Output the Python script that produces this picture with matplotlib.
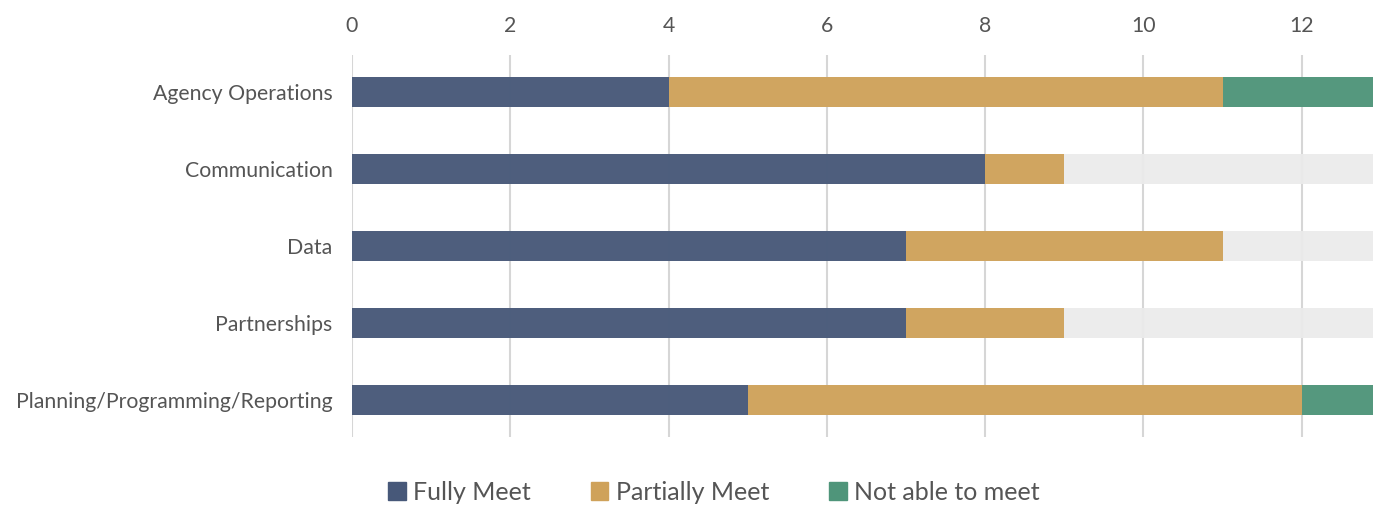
import matplotlib.pyplot as plt
from matplotlib.patches import Patch
import numpy as np

plt.rcParams['font.family'] = ['Lato', 'DejaVu Sans']

categories = ['Agency Operations', 'Communication', 'Data', 'Partnerships',
              'Planning/Programming/Reporting']
fully_meet = [4, 8, 7, 7, 5]
partially_meet = [7, 1, 4, 2, 7]
not_able = [2, 0, 0, 0, 1]
total = 13

colors = {'Fully Meet': '#475879', 'Partially Meet': '#cfa25a',
          'Not able to meet': '#4f957a'}
text_color = '#555555'

fig = plt.figure(figsize=(13.73, 5.08), dpi=100)
ax = fig.add_axes([352 / 1373, 1 - 437 / 508, 1 - 352 / 1373, (437 - 55) / 508])

y = np.arange(len(categories))
h = 0.39
fm = np.array(fully_meet)
pm = np.array(partially_meet)
na = np.array(not_able)

# background track behind each stacked bar
ax.barh(y, [total] * len(categories), height=h, color='#ebebeb', alpha=0.95, zorder=1)
ax.barh(y, fm, height=h, color=colors['Fully Meet'], alpha=0.96, zorder=2)
ax.barh(y, pm, left=fm, height=h, color=colors['Partially Meet'], alpha=0.96, zorder=2)
ax.barh(y, na, left=fm + pm, height=h, color=colors['Not able to meet'], alpha=0.96, zorder=2)

ax.set_xlim(0, 12.9)
ax.set_ylim(len(categories) - 0.52, -0.48)
ax.set_xticks(range(0, 13, 2))
ax.xaxis.tick_top()
ax.set_axisbelow(True)
ax.grid(axis='x', color='#d6d6d6', linewidth=1.5)
ax.set_yticks(y)
ax.set_yticklabels(categories)
ax.tick_params(axis='both', length=0, labelsize=15.3, labelcolor=text_color)
ax.tick_params(axis='x', pad=14)
ax.tick_params(axis='y', pad=14)
for s in ax.spines.values():
    s.set_visible(False)

handles = [Patch(color=c, label=k) for k, c in colors.items()]
fig.legend(handles=handles, loc='center', bbox_to_anchor=(714 / 1373, 1 - 492 / 508),
           ncol=3, frameon=False, fontsize=18, labelcolor=text_color,
           handlelength=0.7, handleheight=0.7, handletextpad=0.3, columnspacing=2.4)

fig.savefig('out.png', dpi=100)
